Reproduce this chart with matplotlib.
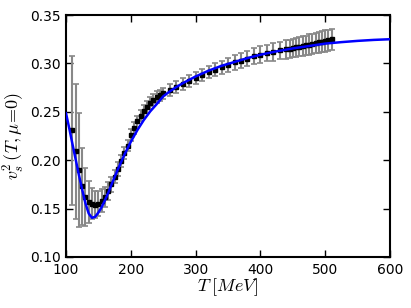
import matplotlib
matplotlib.use("Agg")
import matplotlib.pyplot as plt

# lattice points (T in MeV, speed of sound squared, error)
T_lat = [110, 115, 120, 125, 130, 135, 140, 145, 150, 155, 160, 165, 170, 175,
         180, 185, 190, 195, 200, 205, 210, 215, 220, 225, 230, 235, 240, 245,
         250, 260, 270, 280, 290, 300, 310, 320, 330, 340, 350, 360, 370, 380,
         390, 400, 410, 420, 430, 440, 445, 450, 455, 460, 465, 470, 475, 480,
         485, 490, 495, 500, 505, 510]
cs2_lat = [0.231, 0.209, 0.190, 0.173, 0.162, 0.157, 0.155, 0.154, 0.155, 0.158,
           0.162, 0.168, 0.175, 0.183, 0.191, 0.1995, 0.2075, 0.215, 0.226, 0.233,
           0.240, 0.246, 0.251, 0.255, 0.259, 0.262, 0.265, 0.267, 0.269, 0.2725,
           0.2755, 0.279, 0.282, 0.285, 0.288, 0.291, 0.2935, 0.296, 0.2985, 0.301,
           0.303, 0.305, 0.3075, 0.309, 0.311, 0.312, 0.3135, 0.3145, 0.315, 0.3157,
           0.3165, 0.3172, 0.318, 0.3188, 0.3195, 0.3203, 0.321, 0.3218, 0.3225,
           0.3232, 0.324, 0.3248]
err_lat = [0.077, 0.070, 0.059, 0.040, 0.030, 0.022, 0.016, 0.014, 0.013, 0.012,
           0.010, 0.009, 0.008, 0.007, 0.007, 0.006, 0.006, 0.006, 0.006, 0.006,
           0.006, 0.006, 0.006, 0.006, 0.006, 0.006, 0.006, 0.006, 0.006, 0.006,
           0.006, 0.006, 0.006, 0.006, 0.006, 0.0065, 0.0065, 0.007, 0.007, 0.0075,
           0.0075, 0.008, 0.008, 0.0085, 0.0085, 0.009, 0.009, 0.0095, 0.0095, 0.0095,
           0.01, 0.01, 0.01, 0.01, 0.0105, 0.0105, 0.0105, 0.011, 0.011, 0.011,
           0.011, 0.011]

# model curve
T_fit = [100, 105, 110, 115, 120, 125, 130, 135, 140, 145, 150, 155, 160, 165,
         170, 175, 180, 190, 200, 210, 220, 230, 240, 250, 260, 270, 280, 290,
         300, 320, 340, 360, 380, 400, 425, 450, 475, 500, 525, 550, 575, 600]
cs2_fit = [0.2485, 0.233, 0.2165, 0.2005, 0.1845, 0.1695, 0.1555, 0.145, 0.1405,
           0.1415, 0.146, 0.1515, 0.1585, 0.166, 0.1745, 0.1825, 0.1905, 0.2055,
           0.219, 0.231, 0.2415, 0.2505, 0.258, 0.266, 0.271, 0.2755, 0.2795,
           0.283, 0.2865, 0.2925, 0.2975, 0.3015, 0.3055, 0.309, 0.3125, 0.3155,
           0.318, 0.3205, 0.322, 0.3233, 0.3243, 0.325]

plt.rcParams['mathtext.fontset'] = 'cm'
plt.rcParams['font.size'] = 10

fig = plt.figure(figsize=(4.11, 3.08), dpi=100)
ax = fig.add_axes([0.1606, 0.1656, 0.7884, 0.7856])

ax.errorbar(T_lat, cs2_lat, yerr=err_lat, fmt='s', color='black', ms=2.8,
            ecolor='#888888', elinewidth=1.5, capsize=2, capthick=1.2, zorder=2)
ax.plot(T_fit, cs2_fit, color='blue', lw=1.8, zorder=3)

ax.set_xlim(100, 600)
ax.set_ylim(0.10, 0.35)
ax.set_xticks([100, 200, 300, 400, 500, 600])
ax.set_yticks([0.10, 0.15, 0.20, 0.25, 0.30, 0.35])
ax.set_yticklabels(["0.10", "0.15", "0.20", "0.25", "0.30", "0.35"])
ax.tick_params(direction='in', top=True, right=True, length=5, width=1, pad=4)
for s in ax.spines.values():
    s.set_linewidth(1.5)

ax.set_xlabel(r'$T\;[MeV]$', fontsize=13, labelpad=0)
ax.set_ylabel(r'$v_s^2\,(T,\mu\!=\!0)$', fontsize=13, labelpad=2)

fig.savefig("out.png", dpi=100)
